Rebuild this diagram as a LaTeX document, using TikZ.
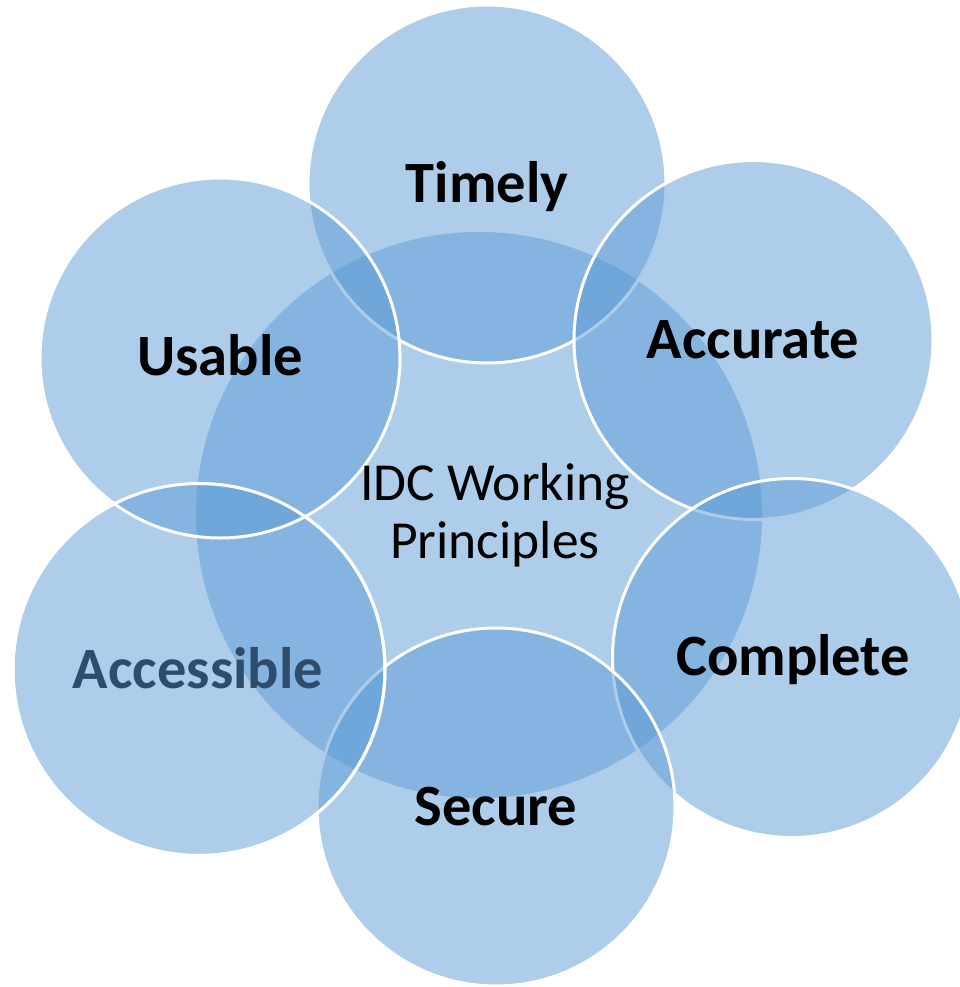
\documentclass[tikz,border=0pt]{standalone}
\usepackage{fontspec}
\setmainfont{Carlito}
\definecolor{cfill}{RGB}{91,155,213}
\definecolor{accblue}{RGB}{46,77,108}
\tikzset{
  petal/.style={circle, fill=cfill, fill opacity=0.5, draw=white, draw opacity=1, line width=3pt, inner sep=0pt, text opacity=1},
  hub/.style={circle, fill=cfill, fill opacity=0.5, draw=none, inner sep=0pt},
  lbl/.style={anchor=base, font=\fontsize{58.5}{70}\selectfont\bfseries, inner sep=0pt},
  hubtext/.style={align=center, font=\fontsize{53.5}{58}\selectfont, inner sep=0pt, anchor=base}
}
\begin{document}
\begin{tikzpicture}[x=1pt,y=1pt]
\useasboundingbox (0,0) rectangle (959,-987);
% central circle
\node[hub, minimum size=566pt] (hub) at (479,-515) {};
% outer circles
\node[petal, minimum size=358pt] (timely) at (487,-184) {};
\node[petal, minimum size=359pt] (accurate) at (753.5,-340) {};
\node[petal, minimum size=359pt] (complete) at (792,-658) {};
\node[petal, minimum size=358pt] (secure) at (496,-807) {};
\node[petal, minimum size=372pt] (accessible) at (199,-669.5) {};
\node[petal, minimum size=360pt] (usable) at (220,-358) {};
% redraw border of Accessible (appears on top in reference)
\draw[white, line width=3pt] (accessible.center) circle[radius=186pt];
% labels
\node[lbl] (tTimely) at (487,-202) {Timely};
\node[lbl] (tAccurate) at (753,-358) {Accurate};
\node[lbl] (tComplete) at (793,-675) {Complete};
\node[lbl] (tSecure) at (496,-825) {Secure};
\node[lbl, text=accblue] (tAccessible) at (198,-688) {Accessible};
\node[lbl] (tUsable) at (220,-375) {Usable};
\node[hubtext] (tHub) at (495,-558) {IDC Working\\Principles};
\end{tikzpicture}
\end{document}
